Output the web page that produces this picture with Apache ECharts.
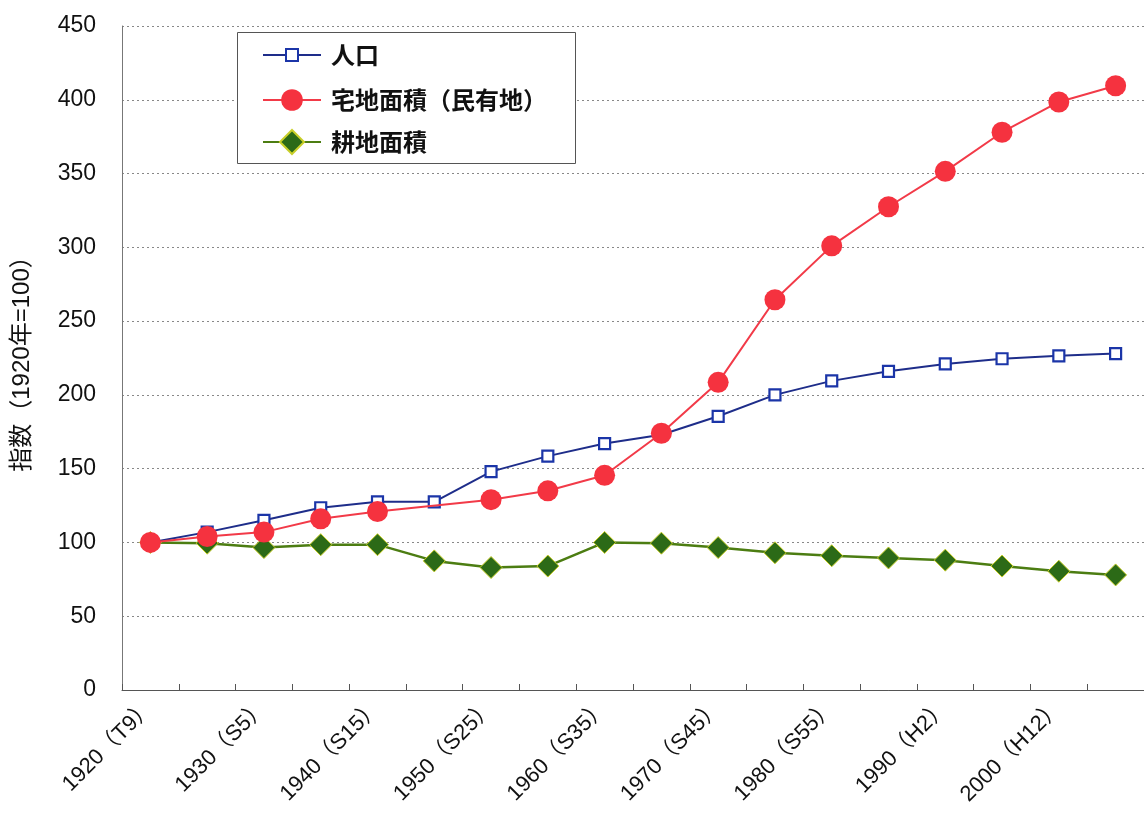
<!DOCTYPE html>
<html>
<head>
<meta charset="utf-8">
<script src="https://cdn.jsdelivr.net/npm/echarts@6/dist/echarts.min.js"></script>
<style>
  html, body { margin: 0; padding: 0; background: #ffffff; }
  #chart { width: 1144px; height: 815px; }
</style>
</head>
<body>
<div id="chart"></div>
<script>
// Survey years (every 5 years) with Japanese era labels
const categories = [
  '1920（T9）', '1925（T14）', '1930（S5）', '1935（S10）', '1940（S15）', '1945（S20）',
  '1950（S25）', '1955（S30）', '1960（S35）', '1965（S40）', '1970（S45）', '1975（S50）',
  '1980（S55）', '1985（S60）', '1990（H2）', '1995（H7）', '2000（H12）', '2005（H17）'
];

// Index values, 1920 = 100
const population = [100, 107, 115, 123.5, 127.5, 127.5, 148, 158.5, 167, 173, 185.5, 200, 209.5, 216, 221, 224.5, 226.5, 228];
const residentialArea = [100, 104, 107, 116, 121, null, 129, 135, 145.5, 174, 208.5, 264.5, 301, 327.5, 351.5, 378, 398.5, 409.5];
const farmlandArea = [100, 99.5, 96.5, 98.5, 98.5, 87.5, 83, 84, 100, 99.5, 96.5, 93, 91, 89.5, 88, 84, 80.5, 78];

const seriesNames = ['人口', '宅地面積（民有地）', '耕地面積'];
const yTicks = { min: 0, max: 450, interval: 50 };

const latinCjk = "'Liberation Sans', 'Noto Sans CJK JP', sans-serif";
const cjk = "'Noto Sans CJK JP', sans-serif";

const chart = echarts.init(document.getElementById('chart'), null, { renderer: 'canvas' });

const legendBase = {
  orient: 'vertical',
  left: 257,
  itemWidth: 58,
  itemGap: 0,
  selectedMode: false,
  textStyle: { fontFamily: cjk, fontSize: 24, fontWeight: 'bold', color: '#111', padding: [0, 0, 0, 5] }
};

chart.setOption({
  backgroundColor: '#ffffff',
  animation: false,
  grid: { left: 122, top: 26, width: 1029, height: 664, containLabel: false },
  graphic: [{
    type: 'rect',
    left: 237, top: 32,
    shape: { width: 338, height: 131 },
    style: { fill: '#ffffff', stroke: '#555', lineWidth: 1 },
    z: 5
  }],
  legend: [
    Object.assign({}, legendBase, { data: [seriesNames[0]], top: 38, itemHeight: 15, z: 10 }),
    Object.assign({}, legendBase, { data: [seriesNames[1]], top: 83, itemHeight: 27, z: 10 }),
    Object.assign({}, legendBase, { data: [seriesNames[2]], top: 124, itemHeight: 30, z: 10 })
  ],
  xAxis: {
    type: 'category',
    data: categories,
    boundaryGap: true,
    axisLine: { show: true, lineStyle: { color: '#555', width: 1 } },
    axisTick: { show: true, inside: true, length: 6, interval: 0, lineStyle: { color: '#555' } },
    axisLabel: {
      interval: 1,
      rotate: 45,
      margin: 14,
      fontFamily: latinCjk,
      fontSize: 22,
      color: '#111'
    },
    splitLine: { show: false }
  },
  yAxis: {
    type: 'value',
    min: yTicks.min,
    max: yTicks.max,
    interval: yTicks.interval,
    name: '指数（1920年=100）',
    nameLocation: 'middle',
    nameRotate: 90,
    nameGap: 88,
    nameTextStyle: { fontFamily: latinCjk, fontSize: 24, color: '#111' },
    axisLine: { show: true, lineStyle: { color: '#777', width: 1 } },
    axisTick: { show: false },
    axisLabel: { margin: 26, fontFamily: "'Liberation Sans', sans-serif", fontSize: 23, color: '#111' },
    splitLine: { show: true, lineStyle: { color: '#888', type: [2, 3], width: 1 } }
  },
  series: [
    {
      name: seriesNames[0],
      type: 'line',
      data: population,
      symbol: 'rect',
      symbolSize: 11,
      z: 3,
      lineStyle: { color: '#1e2d8a', width: 2 },
      itemStyle: { color: '#ffffff', borderColor: '#1b35a8', borderWidth: 2.2 }
    },
    {
      name: seriesNames[1],
      type: 'line',
      data: residentialArea,
      connectNulls: true,
      symbol: 'circle',
      symbolSize: 21,
      z: 4,
      lineStyle: { color: '#f23a48', width: 2 },
      itemStyle: { color: '#f5323f', borderColor: '#f5323f', borderWidth: 0 }
    },
    {
      name: seriesNames[2],
      type: 'line',
      data: farmlandArea,
      symbol: 'diamond',
      symbolSize: [22, 22],
      z: 2,
      lineStyle: { color: '#4c7d12', width: 2.5 },
      itemStyle: { color: '#2c6a17', borderColor: '#c9cf2a', borderWidth: 1 }
    }
  ]
});
</script>
</body>
</html>
